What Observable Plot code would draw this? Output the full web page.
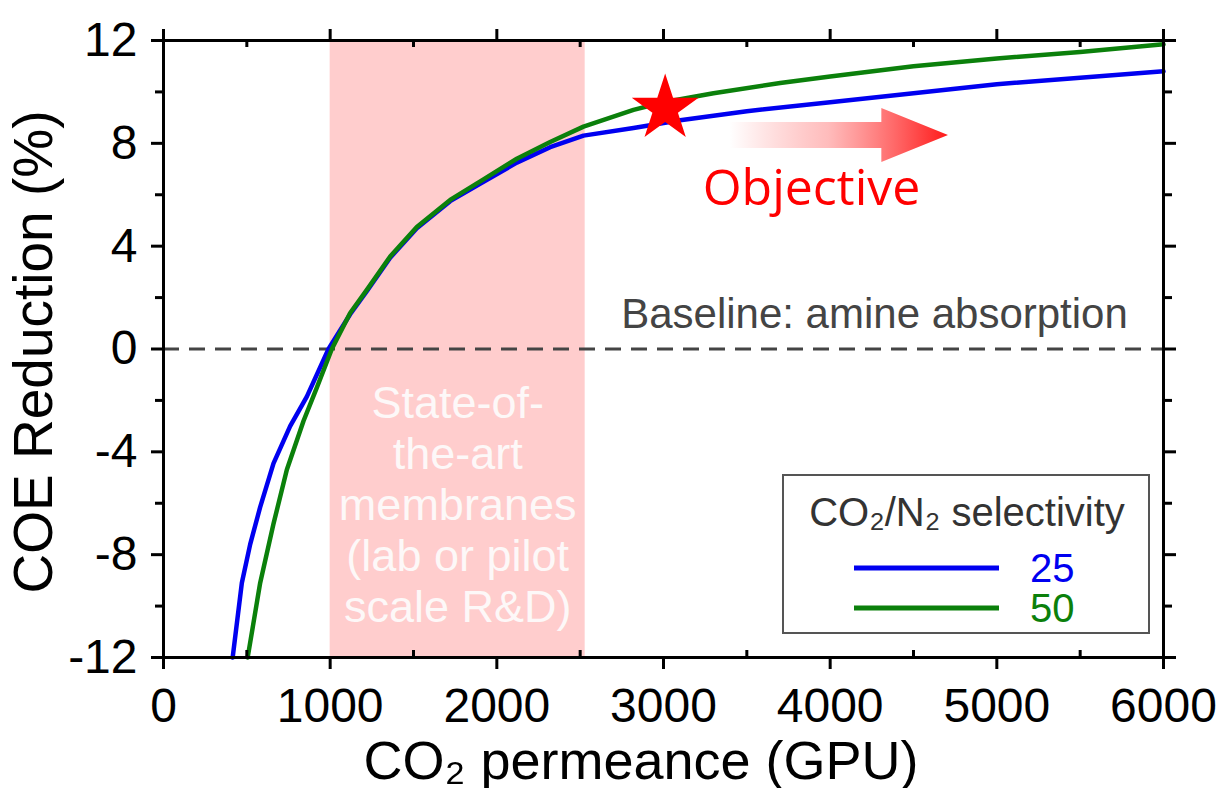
<!DOCTYPE html>
<html><head><meta charset="utf-8">
<script src="https://cdn.jsdelivr.net/npm/d3@7"></script>
<script src="https://cdn.jsdelivr.net/npm/@observablehq/plot@0.6"></script>
<style>
body{margin:0;background:#fff}
svg{display:block}
</style>
</head><body><div id="chart"></div>
<script>
// ---- data ----
const permeance25 = [415, 470, 520, 580, 660, 760, 860, 990, 1120, 1220, 1360, 1520, 1720, 1920, 2120, 2320, 2520, 2820, 3100, 3500, 4000, 4500, 5000, 5500, 6000];
const coe25       = [-12, -9.1, -7.6, -6.15, -4.45, -3.0, -1.85, 0, 1.35, 2.25, 3.55, 4.7, 5.75, 6.5, 7.25, 7.85, 8.3, 8.6, 8.9, 9.25, 9.6, 9.95, 10.3, 10.55, 10.8];
const permeance50 = [505, 580, 660, 740, 840, 920, 1010, 1120, 1220, 1360, 1520, 1720, 1920, 2120, 2320, 2520, 2820, 3000, 3300, 3700, 4000, 4500, 5000, 5500, 6000];
const coe50       = [-12, -9.1, -6.8, -4.7, -2.8, -1.5, 0, 1.4, 2.3, 3.6, 4.75, 5.8, 6.6, 7.4, 8.05, 8.65, 9.3, 9.6, 9.95, 10.35, 10.6, 11.0, 11.3, 11.55, 11.85];

const xTicks = [0, 1000, 2000, 3000, 4000, 5000, 6000];
const xMinor = [500, 1500, 2500, 3500, 4500, 5500];
const yTicks = [-12, -8, -4, 0, 4, 8, 12];
const yMinor = [-10, -6, -2, 2, 6, 10];

const stateOfArtRange = [1000, 2530];
const stateOfArtLabel = "State-of-\nthe-art\nmembranes\n(lab or pilot\nscale R&D)";
const stateOfArtAt = [1765, -6.0];
const objectivePoint = [3010, 9.35];
const objectiveLabel = "Objective";
const objectiveLabelAt = [3888, 6.24];
const arrowRange = [3400, 4710];
const arrowHeadStart = 4310;
const arrowLevel = 8.3;
const baselineValue = 0;
const baselineLabel = "Baseline: amine absorption";
const baselineLabelAt = [4266, 1.34];
const selectivities = ["25", "50"];
const legendTitle = "CO₂/N₂ selectivity";
const xTitle = "CO₂ permeance (GPU)";
const yTitle = "COE Reduction (%)";

const colors = {"25": "#0000f0", "50": "#0b800b"};
const series25 = permeance25.map((p, i) => ({p, v: coe25[i], s: "25"}));
const series50 = permeance50.map((p, i) => ({p, v: coe50[i], s: "50"}));

const W = 1225, H = 788;
const mL = 163, mR = 62, mT = 40, mB = 131;
const frameH = H - mT - mB;
const fmt = d => String(d);

const plot = Plot.plot({
  width: W, height: H,
  marginLeft: mL, marginRight: mR, marginTop: mT, marginBottom: mB,
  x: {domain: [0, 6000], label: null},
  y: {domain: [-12, 12], label: null},
  style: {fontFamily: "'Liberation Sans', Arial, sans-serif", fontSize: "48px", color: "black", background: "white", overflow: "visible"},
  marks: [
    Plot.rect([stateOfArtRange], {x1: d => d[0], x2: d => d[1], fill: "#ffcdcd"}),
    Plot.text([stateOfArtAt], {x: d => d[0], y: d => d[1], text: () => stateOfArtLabel, fill: "#fdf8f8", fontSize: 45, lineHeight: 1.133, textAnchor: "middle", lineAnchor: "middle", ariaLabel: "state-of-the-art"}),
    Plot.ruleY([baselineValue], {stroke: "#444", strokeWidth: 3, strokeDasharray: "16,10"}),
    Plot.text([baselineLabelAt], {x: d => d[0], y: d => d[1], text: () => baselineLabel, fill: "#444", fontSize: 42, textAnchor: "middle", lineAnchor: "middle"}),
    Plot.line(series25, {x: "p", y: "v", stroke: colors["25"], strokeWidth: 4.5}),
    Plot.line(series50, {x: "p", y: "v", stroke: colors["50"], strokeWidth: 4.5}),
    Plot.dot([objectivePoint], {x: d => d[0], y: d => d[1], symbol: "star", r: 21, fill: "#ff0000", stroke: "none"}),
    Plot.text([objectiveLabelAt], {x: d => d[0], y: d => d[1], text: () => objectiveLabel, fill: "#ff0000", fontSize: 50, fontFamily: "'Open Sans', sans-serif", textAnchor: "middle", lineAnchor: "middle"}),
    // inward minor ticks on top and bottom
    Plot.tickX(xMinor, {x: d => d, insetTop: frameH - 7, stroke: "black", strokeWidth: 3}),
    Plot.tickX(xMinor, {x: d => d, insetBottom: frameH - 7, stroke: "black", strokeWidth: 3}),
    // axes
    Plot.axisX({ticks: xTicks, tickSize: 12, tickPadding: 18, tickFormat: fmt, strokeWidth: 3, label: null}),
    Plot.axisX({anchor: "top", ticks: xTicks, tickSize: 12, text: null, strokeWidth: 3, label: null}),
    Plot.axisY({ticks: yTicks, tickSize: 12, tickPadding: 14, tickFormat: fmt, strokeWidth: 3, label: null}),
    Plot.axisY({ticks: yMinor, tickSize: 8, text: null, strokeWidth: 3, label: null}),
    Plot.axisY({anchor: "right", ticks: yTicks, tickSize: 12, text: null, strokeWidth: 3, label: null}),
    Plot.axisY({anchor: "right", ticks: yMinor, tickSize: 8, text: null, strokeWidth: 3, label: null}),
    Plot.frame({stroke: "black", strokeWidth: 3})
  ]
});

const svg = d3.select(plot);
const xs = plot.scale("x"), ys = plot.scale("y");
const X = v => xs.apply(v), Y = v => ys.apply(v);

const defs = svg.insert("defs", ":first-child");

// soft drop shadow on the band label
const flt = defs.append("filter").attr("id", "softShadow")
  .attr("x", "-10%").attr("y", "-10%").attr("width", "130%").attr("height", "130%");
flt.append("feDropShadow").attr("dx", 2).attr("dy", 2).attr("stdDeviation", 1.2)
  .attr("flood-color", "#806060").attr("flood-opacity", 0.7);
svg.selectAll('[aria-label="state-of-the-art"]').attr("filter", "url(#softShadow)");

// gradient arrow toward higher permeance
const grad = defs.append("linearGradient").attr("id", "arrowGrad")
  .attr("gradientUnits", "userSpaceOnUse")
  .attr("x1", X(arrowRange[0])).attr("x2", X(arrowRange[1])).attr("y1", 0).attr("y2", 0);
grad.append("stop").attr("offset", 0).attr("stop-color", "#ff2020").attr("stop-opacity", 0);
grad.append("stop").attr("offset", 0.45).attr("stop-color", "#ff4040").attr("stop-opacity", 0.35);
grad.append("stop").attr("offset", 1).attr("stop-color", "#ff1a1a").attr("stop-opacity", 1);
const ay = Y(arrowLevel), bh = 13, hh = 27;
const ax0 = X(arrowRange[0]), ax1 = X(arrowHeadStart), ax2 = X(arrowRange[1]);
svg.append("path")
  .attr("d", `M${ax0},${ay - bh}H${ax1}V${ay - hh}L${ax2},${ay}L${ax1},${ay + hh}V${ay + bh}H${ax0}Z`)
  .attr("fill", "url(#arrowGrad)");

// axis titles
svg.append("text").attr("x", 641).attr("y", 779)
  .attr("text-anchor", "middle").attr("font-size", 54).attr("fill", "black")
  .attr("font-family", "'Liberation Sans', Arial, sans-serif").text(xTitle);
svg.append("text").attr("transform", `translate(52,${352}) rotate(-90)`)
  .attr("text-anchor", "middle").attr("font-size", 55).attr("fill", "black")
  .attr("font-family", "'Liberation Sans', Arial, sans-serif").text(yTitle);

// legend box
const fr = W - mR, fb = H - mB;
const lx = fr - 380, ly = fb - 182, lw = 366, lh = 158;
const lg = svg.append("g").attr("font-family", "'Liberation Sans', Arial, sans-serif");
lg.append("rect").attr("x", lx).attr("y", ly).attr("width", lw).attr("height", lh)
  .attr("fill", "white").attr("stroke", "#555").attr("stroke-width", 2);
lg.append("text").attr("x", lx + lw / 2 + 1).attr("y", ly + 51).attr("text-anchor", "middle")
  .attr("font-size", 40).attr("fill", "#333").text(legendTitle);
selectivities.forEach((s, i) => {
  const yy = ly + 93 + i * 40;
  lg.append("line").attr("x1", lx + 71).attr("x2", lx + 216).attr("y1", yy).attr("y2", yy)
    .attr("stroke", colors[s]).attr("stroke-width", 5);
  lg.append("text").attr("x", lx + 247).attr("y", yy).attr("dy", "0.36em")
    .attr("text-anchor", "start")
    .attr("font-size", 40).attr("fill", colors[s]).text(s);
});

document.getElementById("chart").appendChild(plot);
</script>
</body></html>
